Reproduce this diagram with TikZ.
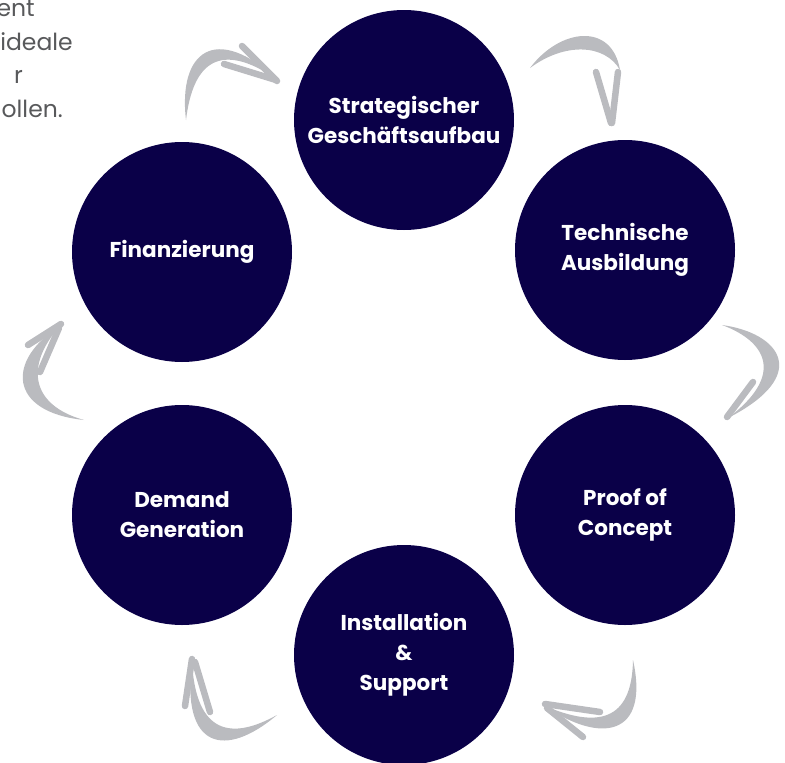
\documentclass[tikz,border=0pt]{standalone}
\usepackage{fontspec}
\setmainfont{Poppins}
\definecolor{navy}{RGB}{10,0,72}
\definecolor{brush}{RGB}{186,187,191}
\definecolor{greytext}{RGB}{88,89,91}
\begin{document}
\begin{tikzpicture}[x=1pt,y=-1pt,
  circ/.style={circle, fill=navy, minimum size=220pt, inner sep=0pt, text=white,
    font=\bfseries\fontsize{21.5}{30}\selectfont, align=center},
  intro/.style={text=greytext, font=\fontsize{23.5}{28}\selectfont, inner sep=0pt, anchor=base east},
  barb/.style={draw=brush, line width=6.5pt, line cap=round},
  crescent/.style={fill=brush, draw=none}]
\useasboundingbox (0,0) rectangle (785,763);
% intro text (cut off at left)
\node[intro] (t1) at (35,16) {ent};
\node[intro] (t2) at (73,50) {ideale};
\node[intro] (t3) at (23,83) {r};
\node[intro] (t4) at (63,117) {ollen.};
% circles
\node[circ] (strat) at (404,120) {Strategischer\\Geschäftsaufbau};
\node[circ] (tech) at (625,250) {Technische\\Ausbildung};
\node[circ] (proof) at (625,515) {Proof of\\Concept};
\node[circ] (inst) at (404,655) {Installation\\\&\\Support};
\node[circ] (demand) at (182,515) {Demand\\Generation};
\node[circ] (fin) at (182,252) {Finanzierung};
% arrow fin -> strat
\fill[crescent] (186,120) .. controls (178,52) and (215,22) .. (278,80)
  .. controls (220,40) and (193,62) .. cycle;
\draw[barb] (242,46) -- (277,81);
\draw[barb] (224,64) -- (276,80);
% arrow strat -> tech
\fill[crescent] (530,68) .. controls (560,28) and (612,22) .. (620,70)
  .. controls (605,44) and (565,42) .. cycle;
\draw[barb] (596,72) -- (611,123);
\draw[barb] (618,72) -- (612,123);
% arrow tech -> proof
\fill[crescent] (722,325) .. controls (780,333) and (812,375) .. (728,418)
  .. controls (784,376) and (768,342) .. cycle;
\draw[barb] (753,382) -- (727,417);
% arrow proof -> inst
\fill[crescent] (633,660) .. controls (650,737) and (600,744) .. (545,706)
  .. controls (597,728) and (632,722) .. cycle;
\draw[barb] (600,712) -- (545,704);
\draw[barb] (583,737) -- (547,708);
% arrow inst -> demand
\fill[crescent] (277,715) .. controls (225,759) and (181,749) .. (192,662)
  .. controls (196,735) and (232,740) .. cycle;
\draw[barb] (185,706) -- (192,659);
\draw[barb] (210,712) -- (195,662);
% arrow demand -> fin
\fill[crescent] (84,420) .. controls (8,412) and (6,360) .. (60,326)
  .. controls (25,365) and (30,405) .. cycle;
\draw[barb] (28,345) -- (61,324);
\draw[barb] (40,372) -- (59,328);
\end{tikzpicture}
\end{document}
